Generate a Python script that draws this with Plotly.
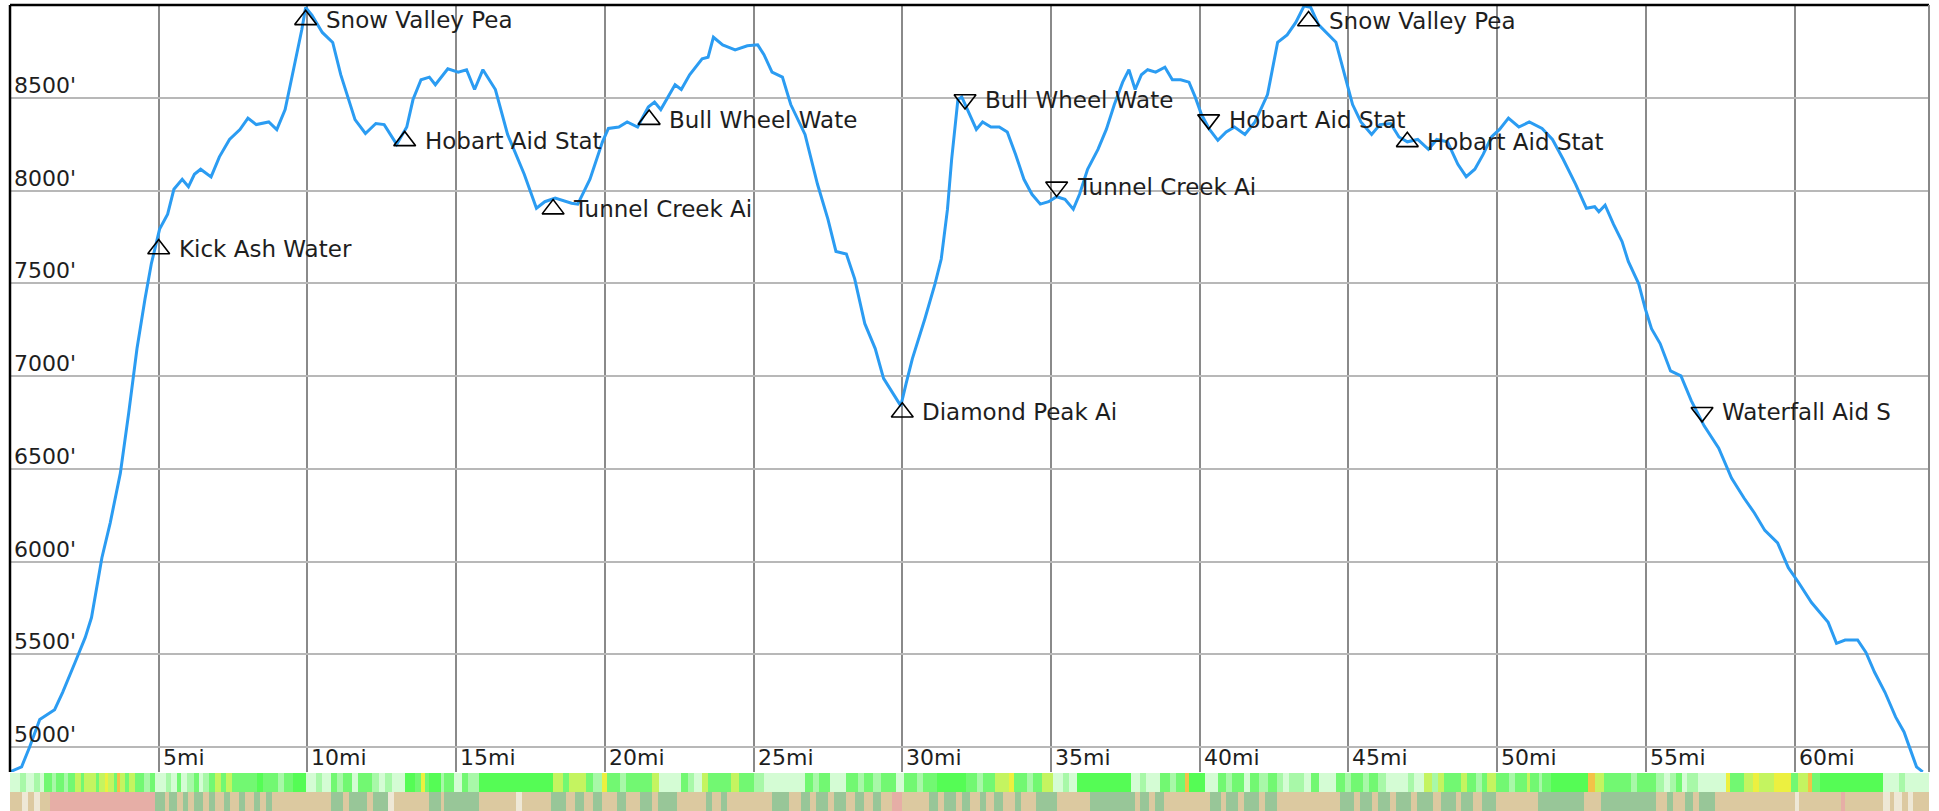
import plotly.graph_objects as go

# ---------------- profile data (miles, feet) ----------------
dist_mi = [0.0, 0.39, 0.66, 1.0, 1.5, 1.77, 2.19, 2.53, 2.74, 3.09, 3.37, 3.71, 3.99, 4.27, 4.54, 4.75,
           5.03, 5.30, 5.51, 5.79, 6.0, 6.2, 6.41, 6.76, 7.04, 7.38, 7.73, 8.0, 8.28, 8.7, 8.97, 9.25,
           9.53, 9.81, 9.94, 10.15, 10.5, 10.85, 11.12, 11.4, 11.6, 11.95, 12.3, 12.58, 13.0, 13.34,
           13.55, 13.82, 14.1, 14.3, 14.72, 15.07, 15.35, 15.62, 15.9, 16.32, 16.73, 17.29, 17.7,
           17.98, 18.33, 18.88, 19.09, 19.5, 19.92, 20.12, 20.47, 20.75, 21.1, 21.46, 21.67, 21.88,
           22.16, 22.36, 22.57, 22.85, 23.27, 23.47, 23.65, 23.96, 24.17, 24.38, 24.79, 25.14, 25.35,
           25.62, 25.97, 26.25, 26.73, 27.15, 27.5, 27.77, 28.12, 28.4, 28.74, 29.09, 29.37, 29.72,
           29.95, 30.13, 30.34, 30.76, 31.1, 31.31, 31.52, 31.66, 31.87, 32.0, 32.28, 32.49, 32.7,
           32.98, 33.26, 33.53, 33.81, 34.09, 34.36, 34.64, 34.92, 35.19, 35.47, 35.75, 35.96, 36.23,
           36.58, 36.86, 37.13, 37.41, 37.62, 37.83, 38.04, 38.25, 38.52, 38.83, 39.08, 39.36, 39.64,
           39.85, 40.06, 40.33, 40.61, 40.89, 41.17, 41.52, 41.86, 42.28, 42.62, 42.94, 43.23, 43.51,
           43.73, 44.0, 44.58, 44.86, 45.14, 45.42, 45.78, 46.06, 46.42, 46.7, 46.98, 47.33, 47.69,
           47.97, 48.33, 48.68, 48.96, 49.25, 49.53, 49.81, 50.08, 50.38, 50.73, 51.08, 51.51, 51.86,
           52.22, 52.64, 53.0, 53.28, 53.42, 53.63, 53.91, 54.2, 54.41, 54.76, 54.98, 55.19, 55.48,
           55.83, 56.18, 56.53, 56.96, 57.45, 57.88, 58.3, 58.65, 59.0, 59.43, 59.79, 60.14, 60.57,
           61.13, 61.41, 61.7, 62.12, 62.4, 62.69, 63.04, 63.4, 63.68, 63.89, 64.1, 64.31]
elev_ft = [4866, 4893, 5000, 5148, 5201, 5295, 5457, 5591, 5698, 6021, 6209, 6477, 6800, 7149, 7417, 7605,
           7793, 7874, 8008, 8062, 8022, 8089, 8116, 8075, 8183, 8277, 8330, 8392, 8357, 8371, 8330, 8438,
           8653, 8868, 8989, 8948, 8854, 8800, 8626, 8492, 8384, 8309, 8363, 8357, 8250, 8344,
           8492, 8599, 8613, 8572, 8658, 8640, 8653, 8546, 8653, 8546, 8304, 8089, 7906,
           7941, 7960, 7933, 7928, 8062, 8264, 8336, 8344, 8371, 8344, 8452, 8478, 8438,
           8519, 8572, 8546, 8626, 8712, 8720, 8828, 8787, 8774, 8760, 8782, 8787, 8734,
           8640, 8613, 8465, 8304, 8035, 7847, 7673, 7659, 7525, 7283, 7149, 6988, 6894,
           6840, 6961, 7095, 7310, 7498, 7632, 7901, 8170, 8492, 8506, 8411, 8331, 8371,
           8344, 8344, 8317, 8196, 8062, 7981, 7928, 7941, 7968, 7954, 7901, 7981, 8116,
           8223, 8331, 8465, 8586, 8653, 8546, 8626, 8653, 8640, 8666, 8599, 8599, 8586,
           8505, 8411, 8331, 8272, 8317, 8344, 8304, 8371, 8519, 8801, 8841, 8908, 8997,
           8989, 8895, 8801, 8626, 8465, 8371, 8304, 8357, 8363, 8290, 8264, 8277, 8223,
           8277, 8264, 8143, 8076, 8116, 8196, 8290, 8331, 8392, 8344, 8371, 8336, 8277,
           8170, 8035, 7906, 7914, 7887, 7922, 7820, 7726, 7619, 7498, 7364, 7256, 7176,
           7028, 7002, 6867, 6732, 6612, 6450, 6343, 6262, 6168, 6101, 5967, 5886, 5779,
           5672, 5559, 5577, 5577, 5510, 5403, 5295, 5161, 5081, 4987, 4893, 4866]

# ---------------- waypoints ----------------
wp_names = ["Kick Ash Water", "Snow Valley Pea", "Hobart Aid Stat", "Tunnel Creek Ai", "Bull Wheel Wate",
            "Diamond Peak Ai", "Bull Wheel Wate", "Tunnel Creek Ai", "Hobart Aid Stat", "Snow Valley Pea",
            "Hobart Aid Stat", "Waterfall Aid S"]
wp_mi = [5.0, 9.94, 13.27, 18.26, 21.49, 30.0, 32.11, 35.19, 40.3, 43.66, 46.98, 56.89]
wp_ft = [7686, 8922, 8269, 7901, 8384, 6805, 8492, 8021, 8384, 8916, 8264, 6805]
wp_dir = ["up", "up", "up", "up", "up", "up", "down", "down", "down", "up", "up", "down"]

# ---------------- axis ticks ----------------
x_ticks = [5, 10, 15, 20, 25, 30, 35, 40, 45, 50, 55, 60]
x_labels = ["5mi", "10mi", "15mi", "20mi", "25mi", "30mi", "35mi", "40mi", "45mi", "50mi", "55mi", "60mi"]
y_ticks = [5000, 5500, 6000, 6500, 7000, 7500, 8000, 8500]
y_labels = ["5000'", "5500'", "6000'", "6500'", "7000'", "7500'", "8000'", "8500'"]

# ---------------- grade strip (segment starts, codes) ----------------
grade_codes = ["P", "L", "G", "B", "Y", "W", "O"]
grade_colors = ["#d4fcd4", "#a8f8a8", "#72f872", "#55fc55", "#c4f460", "#ecf040", "#f2c248"]
grade_start = [0.0, 0.35, 0.55, 0.8, 1.0, 1.15, 1.4, 1.55, 1.8, 1.95, 2.19, 2.4, 2.5, 2.88, 3.0, 3.2, 3.3,
               3.5, 3.6, 3.71, 3.85, 4.0, 4.2, 4.5, 4.7, 4.89, 5.24, 5.4, 5.6, 5.75, 5.95, 6.2, 6.35, 6.5,
               6.7, 6.9, 7.1, 7.25, 7.45, 8.3, 8.5, 9.0, 9.2, 9.5, 9.94, 10.3, 10.5, 10.78, 11.0, 11.2,
               11.5, 11.7, 12.16, 12.4, 12.6, 12.85, 13.27, 13.6, 13.82, 13.96, 14.1, 14.5, 14.6, 14.93,
               15.2, 15.4, 15.76, 18.25, 18.6, 18.8, 19.36, 19.6, 19.92, 20.06, 20.5, 20.7, 21.6, 21.81,
               22.57, 22.78, 23.0, 23.27, 23.47, 24.24, 24.51, 25.0, 25.35, 26.73, 27.0, 27.2, 27.57,
               28.12, 28.5, 28.7, 29.0, 29.3, 29.79, 30.06, 30.5, 30.7, 31.17, 32.14, 32.5, 32.7, 33.11,
               33.6, 33.74, 34.2, 34.4, 34.71, 35.06, 35.4, 35.6, 35.89, 37.69, 38.0, 38.2, 38.66, 39.0,
               39.2, 39.49, 39.63, 40.19, 40.6, 40.9, 41.1, 41.5, 41.7, 42.0, 42.3, 42.59, 42.8, 43.0,
               43.5, 43.73, 44.0, 44.58, 44.9, 45.1, 45.5, 45.7, 46.0, 46.27, 47.0, 47.2, 47.55, 47.8,
               48.0, 48.2, 48.8, 49.0, 49.3, 49.5, 49.67, 49.96, 50.4, 50.6, 51.0, 51.1, 51.4, 51.5,
               51.8, 53.07, 53.29, 53.6, 54.5, 54.7, 55.34, 55.6, 55.8, 56.0, 56.2, 56.4, 56.76, 57.68,
               57.82, 58.31, 58.6, 58.8, 59.31, 59.87, 60.1, 60.44, 60.58, 60.86, 62.99, 63.5, 63.7]
grade_seq = ["P", "L", "P", "L", "P", "G", "L", "G", "L", "G", "Y", "G", "Y", "G", "Y", "W", "Y",
             "G", "O", "Y", "G", "Y", "G", "L", "G", "P", "L", "P", "G", "P", "L", "G", "P", "L",
             "G", "Y", "G", "Y", "G", "B", "G", "L", "G", "B", "P", "L", "P", "G", "L", "G",
             "P", "G", "L", "P", "L", "P", "B", "G", "W", "G", "B", "L", "G", "P",
             "G", "L", "B", "Y", "G", "Y", "G", "L", "W", "G", "L", "G", "Y", "P",
             "G", "L", "P", "Y", "G", "Y", "G", "L", "P", "G", "L", "G", "P",
             "G", "L", "G", "L", "G", "P", "G", "L", "G", "B", "G", "L", "G", "Y",
             "W", "G", "L", "G", "Y", "P", "L", "P", "B", "P", "L", "P", "G", "L",
             "G", "O", "B", "P", "G", "L", "G", "P", "G", "L", "G", "L", "P", "L",
             "P", "G", "P", "G", "L", "G", "L", "G", "L", "P", "L", "P", "Y", "L",
             "Y", "G", "Y", "G", "L", "G", "Y", "G", "L", "G", "Y", "G", "L", "G",
             "B", "O", "Y", "G", "L", "G", "L", "P", "L", "G", "P", "L", "P", "W",
             "G", "Y", "W", "Y", "W", "G", "Y", "O", "G", "B", "P", "L", "P"]

# ---------------- surface strip (segment starts, codes) ----------------
surf_codes = ["T", "S", "K", "C"]
surf_colors = ["#dcc9a0", "#98c698", "#e6aea6", "#eee8d6"]
surf_start = [0.0, 0.4, 0.6, 0.8, 1.0, 1.36, 4.89, 5.2, 5.35, 5.6, 5.8, 6.0, 6.2, 6.5, 6.7, 6.9, 7.2,
              7.4, 7.7, 7.9, 8.2, 8.4, 8.6, 8.8, 10.78, 11.2, 11.4, 12.0, 12.2, 12.7, 12.9, 14.1, 14.5,
              14.6, 15.76, 17.0, 17.2, 18.2, 18.7, 19.0, 19.3, 19.6, 19.9, 20.4, 20.7, 21.19, 21.6,
              21.8, 22.43, 23.4, 23.6, 23.9, 24.1, 25.62, 26.18, 26.6, 26.9, 27.1, 27.5, 27.7, 28.12,
              28.4, 28.7, 29.0, 29.3, 29.65, 29.99, 30.89, 31.2, 31.4, 31.8, 32.0, 32.28, 32.6, 32.8,
              33.1, 33.4, 33.8, 34.0, 34.5, 35.19, 36.3, 37.83, 38.0, 38.3, 38.5, 38.8, 40.33, 40.7,
              40.9, 41.3, 41.5, 42.0, 42.2, 42.6, 44.72, 45.2, 45.4, 45.8, 46.0, 46.4, 46.6, 47.1,
              47.3, 47.83, 48.1, 48.6, 48.8, 49.2, 49.5, 49.96, 51.37, 52.93, 53.5, 55.34, 55.7, 55.9,
              56.3, 56.6, 56.8, 57.32, 60.01, 60.16, 61.57, 61.71, 62.99, 63.2, 63.35, 63.6, 63.8, 63.98]
surf_seq = ["T", "C", "T", "C", "T", "K", "S", "T", "S", "T", "S", "T", "S", "T", "S", "T", "S",
            "T", "S", "T", "S", "T", "S", "T", "S", "T", "S", "T", "S", "C", "T", "S", "T",
            "S", "T", "C", "T", "S", "T", "S", "T", "S", "T", "S", "T", "S", "T",
            "S", "T", "S", "T", "S", "T", "S", "T", "S", "T", "S", "T", "S", "T",
            "S", "T", "S", "T", "K", "T", "S", "T", "S", "T", "S", "T", "S", "T",
            "S", "T", "S", "T", "S", "T", "S", "T", "S", "T", "S", "T", "S", "T",
            "S", "T", "S", "T", "S", "T", "S", "T", "S", "T", "S", "T", "S", "T",
            "S", "T", "S", "T", "S", "T", "S", "T", "S", "T", "S", "T", "S", "T",
            "S", "T", "S", "T", "C", "T", "K", "T", "C", "T", "C", "T", "C", "T"]

X_END = 64.52
Y_RANGE = [4865, 9002]
FONT = "DejaVu Sans"
TXT = "#1e1e1e"

W, H = 1939, 811
M_L, M_R, M_T, M_B = 10, 10, 5, 0
plot_h = H - M_T - M_B
strip_px = 19
main_bottom = 2 * strip_px + 1
y0 = main_bottom / plot_h


def discrete_scale(colors):
    n = len(colors)
    cs = []
    for i, c in enumerate(colors):
        cs.append([i / n, c])
        cs.append([(i + 1) / n, c])
    return cs


def strip_trace(starts, seq, codes, colors, xa, ya):
    edges = list(starts) + [X_END]
    z = [[codes.index(s) for s in seq]]
    return go.Heatmap(
        x=edges, y=[0], z=z, xaxis=xa, yaxis=ya,
        colorscale=discrete_scale(colors), zmin=-0.5, zmax=len(colors) - 0.5,
        showscale=False, hoverinfo="skip", zsmooth=False,
    )


fig = go.Figure()

fig.add_trace(go.Scatter(
    x=dist_mi, y=elev_ft, mode="lines",
    line=dict(color="#2b9cf2", width=3), hoverinfo="skip", showlegend=False,
))

fig.add_trace(go.Scatter(
    x=wp_mi, y=wp_ft, mode="markers",
    marker=dict(
        symbol=["triangle-up-open" if d == "up" else "triangle-down-open" for d in wp_dir],
        size=19, color="black", line=dict(color="black", width=1.6),
    ),
    cliponaxis=False, hoverinfo="skip", showlegend=False,
))

annotations = []
for name, xm, yf in zip(wp_names, wp_mi, wp_ft):
    annotations.append(dict(
        x=xm, y=yf, xref="x", yref="y", text=name, showarrow=False,
        xanchor="left", yanchor="middle", xshift=18, yshift=0,
        font=dict(family=FONT, size=23, color=TXT),
    ))
for v, lab in zip(x_ticks, x_labels):
    annotations.append(dict(
        x=v, y=y0, xref="x", yref="paper", text=lab, showarrow=False,
        xanchor="left", yanchor="bottom", xshift=2, yshift=0,
        font=dict(family=FONT, size=22, color=TXT),
    ))
for v, lab in zip(y_ticks, y_labels):
    annotations.append(dict(
        x=0, y=v, xref="paper", yref="y", text=lab, showarrow=False,
        xanchor="left", yanchor="bottom", xshift=2, yshift=-2,
        font=dict(family=FONT, size=22, color=TXT),
    ))

fig.add_trace(strip_trace(grade_start, grade_seq, grade_codes, grade_colors, "x2", "y2"))
fig.add_trace(strip_trace(surf_start, surf_seq, surf_codes, surf_colors, "x3", "y3"))

fig.update_layout(
    width=W, height=H,
    margin=dict(l=M_L, r=M_R, t=M_T, b=M_B, autoexpand=False),
    paper_bgcolor="white", plot_bgcolor="white",
    showlegend=False,
    font=dict(family=FONT, size=22, color=TXT),
    annotations=annotations,
    xaxis=dict(
        range=[0, X_END], tickmode="array", tickvals=x_ticks, showticklabels=False,
        ticks="", showgrid=True, gridcolor="#8a8a8a", gridwidth=1.5,
        zeroline=False, showline=False, automargin=False, anchor="y",
    ),
    yaxis=dict(
        range=Y_RANGE, tickmode="array", tickvals=y_ticks, showticklabels=False,
        ticks="", showgrid=True, gridcolor="#b8b8b8", gridwidth=1.5,
        zeroline=False, showline=False, automargin=False,
        domain=[y0, 1.0], anchor="x",
    ),
    xaxis2=dict(range=[0, X_END], visible=False, anchor="y2", automargin=False),
    yaxis2=dict(domain=[strip_px / plot_h, 2 * strip_px / plot_h], visible=False,
                range=[-0.5, 0.5], anchor="x2", automargin=False),
    xaxis3=dict(range=[0, X_END], visible=False, anchor="y3", automargin=False),
    yaxis3=dict(domain=[0, strip_px / plot_h], visible=False, range=[-0.5, 0.5],
                anchor="x3", automargin=False),
)

fig.add_shape(type="line", xref="paper", yref="paper", x0=0, x1=0, y0=y0, y1=1,
              line=dict(color="black", width=2.5))
fig.add_shape(type="line", xref="paper", yref="paper", x0=0, x1=1, y0=1, y1=1,
              line=dict(color="black", width=2.5))
fig.add_shape(type="line", xref="paper", yref="paper", x0=1, x1=1, y0=y0, y1=1,
              line=dict(color="#888888", width=2))

fig.write_html(
    "out.html",
    config={"displayModeBar": False},
    post_script="document.body.style.margin='0px';document.body.style.overflow='hidden';",
)
